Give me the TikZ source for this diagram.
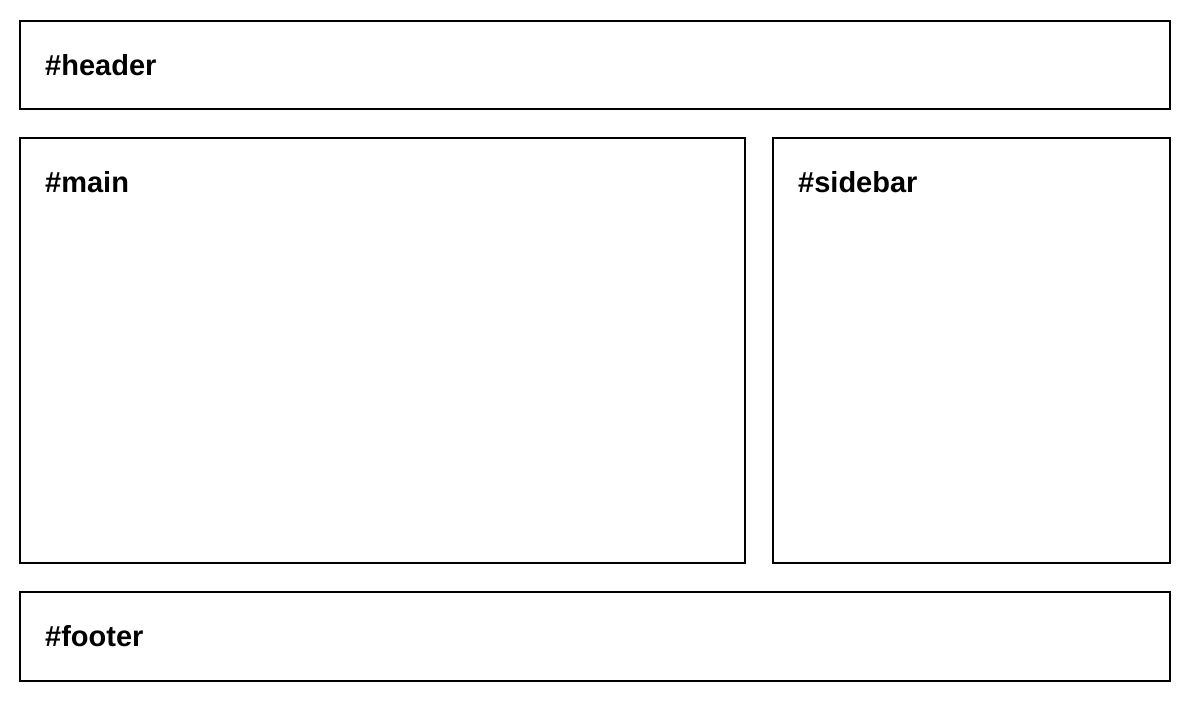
\documentclass[tikz,border=0pt]{standalone}
\usepackage{fontspec}
\setsansfont{Liberation Sans}
\usetikzlibrary{positioning,calc}
\tikzset{box/.style={draw, line width=2pt, anchor=north west, inner sep=0pt},
lbl/.style={anchor=base west, inner sep=0pt, font=\sffamily\bfseries\fontsize{29}{29}\selectfont}}
\begin{document}
\begin{tikzpicture}[x=1pt,y=-1pt]
	\useasboundingbox (0,0) rectangle (1187,713);
\node[box, minimum width=1150pt, minimum height=88pt] (header) at (19,20) {};
\node[box, minimum width=725pt, minimum height=425pt] (main) at (19,137) {};
\node[box, minimum width=397pt, minimum height=425pt] (sidebar) at (772,137) {};
\node[box, minimum width=1150pt, minimum height=89pt] (footer) at (19,591) {};
\node[lbl] (headerlbl) at ($(header.north west)+(26,55)$) {\#header};
\node[lbl] (mainlbl) at ($(main.north west)+(26,55)$) {\#main};
\node[lbl] (sidebarlbl) at ($(sidebar.north west)+(26,55)$) {\#sidebar};
\node[lbl] (footerlbl) at ($(footer.north west)+(26,55)$) {\#footer};
	\end{tikzpicture}
\end{document}
